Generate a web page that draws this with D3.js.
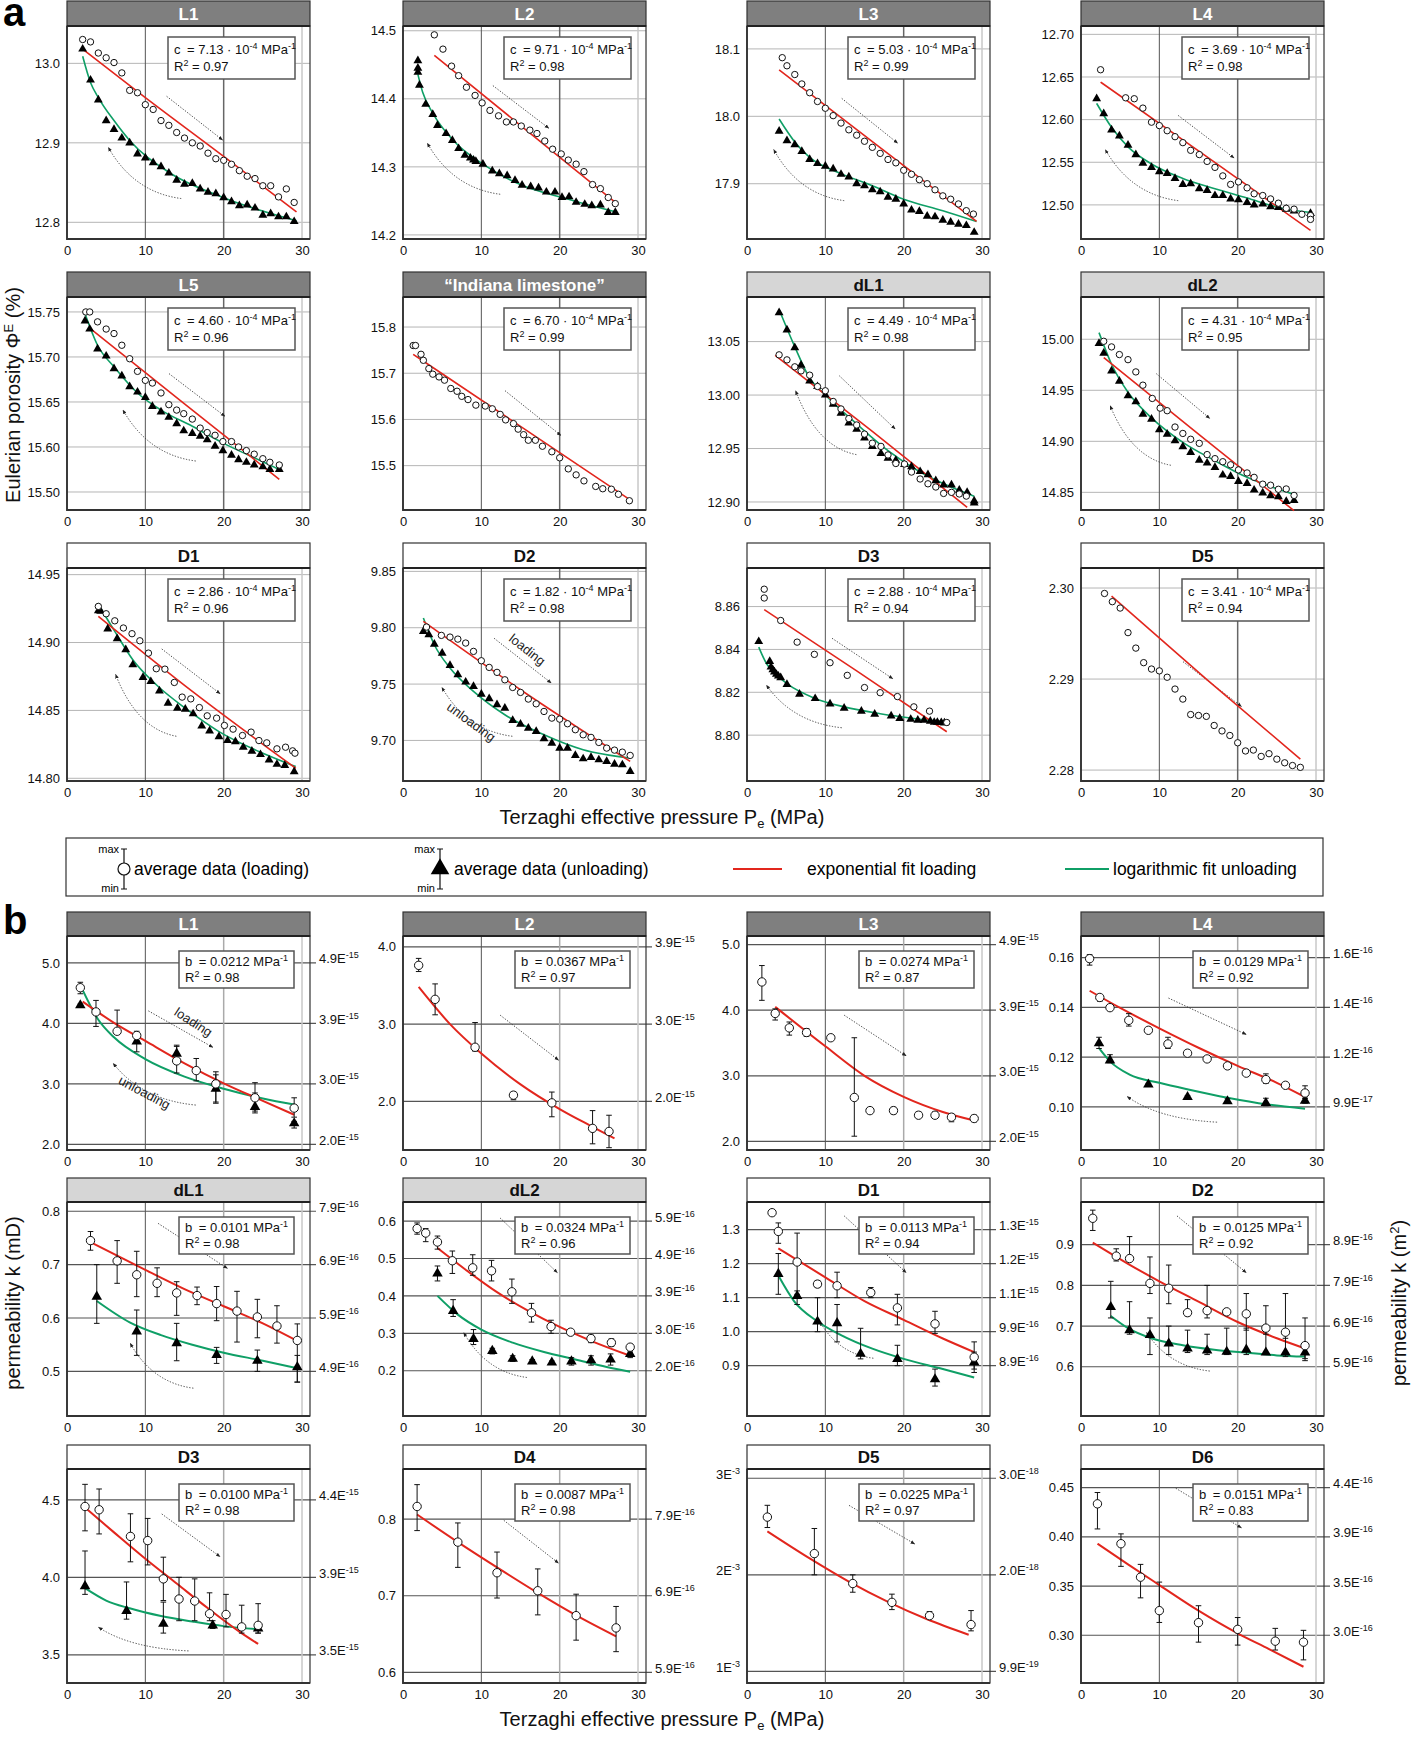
<!DOCTYPE html>
<html lang="en">
<head>
<meta charset="utf-8">
<title>Porosity and permeability vs Terzaghi effective pressure</title>
<script src="https://d3js.org/d3.v7.min.js"></script>
<style>
  body { margin: 0; background: #fff; }
  text { font-family: "Liberation Sans", Arial, Helvetica, sans-serif; }
</style>
</head>
<body>
<script>

// ---------- section a : Eulerian porosity (%) ----------
// points are [pressure MPa, porosity]
var aL1_load = [[2,13.030],[3,13.027],[4,13.013],[5,13.007],[6,13.001],[7,12.988],[8,12.966],[9,12.963],[10,12.948],[11,12.942],[12,12.928],[13,12.922],[14,12.913],[15,12.906],[16,12.900],[17,12.896],[18,12.887],[19,12.880],[20,12.878],[21,12.873],[22,12.865],[23,12.858],[24,12.855],[25,12.846],[26,12.846],[27,12.832],[28,12.842],[29,12.825]];
var aL1_unload = [[2,13.018],[3,12.979],[4,12.954],[5,12.928],[6,12.917],[7,12.906],[8,12.900],[9,12.886],[10,12.881],[11,12.875],[12,12.870],[13,12.862],[14,12.853],[15,12.848],[16,12.849],[17,12.842],[18,12.838],[19,12.836],[20,12.831],[21,12.826],[22,12.821],[23,12.822],[24,12.818],[25,12.809],[26,12.811],[27,12.807],[28,12.807],[29,12.801]];
var aL1_fitL = [[2,13.018],[10,12.957],[20,12.883],[29.3,12.813]];
var aL1_fitU = [[2,13.009],[3,12.976],[4,12.957],[6,12.928],[8,12.903],[13,12.863],[20,12.831],[29.3,12.802]];
var aL1_ticks = ["12.8","12.9","13.0"];

var aL2_load = [[4.0,14.494],[5.1,14.473],[6.2,14.448],[7.1,14.434],[8.1,14.417],[9.2,14.405],[10.1,14.394],[11.1,14.383],[12.2,14.375],[13.2,14.366],[14.1,14.366],[15.1,14.360],[16.2,14.354],[17.1,14.349],[18.1,14.338],[19.1,14.326],[20.2,14.319],[21.1,14.310],[22.1,14.304],[23.1,14.293],[24.2,14.274],[25.2,14.268],[26.2,14.255],[27.1,14.246]];
var aL2_unload = [[1.9,14.456],[1.9,14.445],[1.9,14.439],[2.1,14.420],[2.9,14.392],[3.8,14.377],[4.4,14.361],[5.5,14.349],[6.3,14.339],[7.1,14.327],[7.9,14.317],[8.6,14.313],[9.0,14.310],[9.3,14.308],[10.2,14.304],[11.4,14.294],[12.3,14.290],[13.3,14.287],[14.3,14.280],[15.2,14.273],[16.3,14.271],[17.3,14.269],[18.3,14.263],[19.4,14.263],[20.3,14.255],[21.2,14.256],[22.1,14.248],[23.2,14.245],[24.1,14.243],[25.2,14.244],[26.2,14.233],[27.1,14.233]];
var aL2_fitL = [[4.0,14.464],[15.1,14.360],[27.1,14.248]];
var aL2_fitU = [[1.9,14.436],[2.5,14.410],[3.8,14.379],[6.4,14.339],[10.2,14.304],[15.2,14.273],[20.3,14.255],[27.1,14.234]];
var aL2_ticks = ["14.2","14.3","14.4","14.5"];

var aL3_load = [[4.5,18.087],[5.1,18.075],[6.1,18.062],[7.0,18.048],[8.0,18.035],[9.0,18.022],[10.0,18.012],[11.0,18.001],[12.0,17.990],[13.0,17.980],[14.0,17.972],[15.0,17.963],[16.0,17.954],[17.0,17.945],[18.0,17.936],[19.0,17.931],[20.0,17.920],[21.0,17.914],[22.0,17.906],[23.0,17.900],[24.0,17.891],[25.0,17.882],[26.0,17.877],[27.0,17.870],[28.0,17.860],[28.9,17.855]];
var aL3_unload = [[4.1,17.978],[5.1,17.964],[6.1,17.958],[7.0,17.948],[8.0,17.936],[9.0,17.930],[10.0,17.926],[11.0,17.922],[12.0,17.914],[13.0,17.910],[14.0,17.900],[15.0,17.897],[16.0,17.891],[17.0,17.888],[18.0,17.880],[19.0,17.877],[20.0,17.870],[21.0,17.861],[22.0,17.859],[23.0,17.852],[24.0,17.851],[25.0,17.846],[26.0,17.843],[27.0,17.840],[28.0,17.838],[29.0,17.828]];
var aL3_fitL = [[4.1,18.069],[16.5,17.958],[29.3,17.844]];
var aL3_fitU = [[4.1,17.996],[6.1,17.962],[8,17.939],[12,17.915],[16,17.897],[20,17.877],[25,17.860],[29.3,17.844]];
var aL3_ticks = ["17.9","18.0","18.1"];

var aL4_load = [[2.5,12.6585],[5.7,12.6256],[6.8,12.6245],[7.9,12.6135],[9.0,12.597],[10.0,12.593],[11.0,12.587],[12.0,12.580],[13.0,12.573],[14.0,12.564],[15.1,12.559],[16.1,12.551],[17.1,12.544],[18.1,12.534],[19.1,12.524],[20.1,12.527],[21.2,12.520],[22.1,12.513],[23.2,12.511],[24.2,12.507],[25.2,12.502],[26.2,12.496],[27.2,12.495],[28.2,12.489],[29.3,12.4875],[29.3,12.483]];
var aL4_unload = [[2.0,12.6245],[2.9,12.607],[3.9,12.588],[4.9,12.581],[6.0,12.570],[7.0,12.559],[7.9,12.549],[9.0,12.544],[10.0,12.539],[11.0,12.537],[12.0,12.531],[13.0,12.524],[14.0,12.525],[15.1,12.519],[16.1,12.517],[17.1,12.511],[18.1,12.511],[19.1,12.507],[20.1,12.506],[21.2,12.503],[22.1,12.500],[23.2,12.501],[24.2,12.498],[25.2,12.497],[26.2,12.495],[27.2,12.493],[29.3,12.490]];
var aL4_fitL = [[2.5,12.644],[16,12.557],[29.3,12.470]];
var aL4_fitU = [[2.0,12.619],[3.9,12.591],[6,12.568],[9,12.548],[13,12.531],[17.1,12.519],[21.2,12.508],[25.2,12.497],[29.3,12.491]];
var aL4_ticks = ["12.50","12.55","12.60","12.65","12.70"];

var aL5_load = [[2.4,15.750],[2.9,15.750],[3.9,15.739],[5.0,15.731],[6.0,15.726],[7.0,15.713],[8.0,15.698],[9.0,15.684],[10.0,15.674],[10.9,15.671],[12.0,15.660],[13.0,15.647],[14.0,15.641],[14.9,15.637],[16.0,15.631],[17.0,15.621],[17.9,15.616],[18.9,15.613],[19.9,15.606],[21.0,15.606],[21.9,15.600],[22.9,15.596],[23.9,15.592],[25.0,15.587],[25.9,15.583],[27.1,15.580]];
var aL5_unload = [[2.3,15.740],[2.9,15.731],[3.9,15.709],[5.0,15.701],[6.0,15.687],[7.0,15.679],[8.0,15.667],[9.0,15.661],[10.0,15.655],[10.9,15.645],[12.0,15.639],[13.0,15.633],[14.0,15.626],[14.9,15.618],[16.0,15.615],[17.0,15.612],[17.9,15.608],[18.9,15.601],[19.9,15.596],[21.0,15.591],[21.9,15.586],[22.9,15.583],[23.9,15.580],[25.0,15.578],[25.9,15.575],[27.1,15.575]];
var aL5_fitL = [[2.9,15.732],[15,15.648],[27.1,15.564]];
var aL5_fitU = [[2.3,15.748],[3.9,15.713],[6,15.689],[9,15.660],[12,15.641],[16,15.623],[20,15.604],[23.4,15.590],[27.1,15.575]];
var aL5_ticks = ["15.50","15.60","15.65","15.70","15.75"];
var aL5_tickVals = [15.55, 15.60, 15.65, 15.70, 15.75];

var aIL_load = [[1.3,15.760],[1.6,15.760],[2.3,15.741],[2.6,15.728],[3.3,15.710],[3.8,15.698],[4.6,15.692],[5.3,15.685],[6.1,15.667],[6.9,15.661],[7.5,15.650],[8.3,15.643],[9.3,15.631],[10.5,15.629],[11.4,15.623],[12.4,15.611],[13.1,15.599],[14.1,15.591],[14.7,15.579],[15.4,15.567],[16.0,15.555],[16.9,15.555],[17.8,15.542],[19.0,15.530],[20.0,15.517],[21.1,15.493],[22.1,15.480],[23.1,15.467],[24.6,15.455],[25.5,15.450],[26.6,15.449],[27.5,15.438],[28.9,15.424]];
var aIL_fitL = [[1.3,15.741],[15,15.585],[28.9,15.427]];
var aIL_ticks = ["15.5","15.6","15.7","15.8"];

var adL1_load = [[4.1,13.0376],[5.1,13.0329],[6.1,13.0264],[6.9,13.0226],[8.0,13.0186],[9.0,13.008],[10.0,13.004],[11.0,12.994],[12.0,12.987],[13.0,12.978],[14.0,12.972],[15.0,12.9635],[16.0,12.955],[17.1,12.952],[18.0,12.944],[19.0,12.936],[20.1,12.9355],[21.0,12.928],[22.1,12.9215],[23.1,12.917],[24.1,12.914],[25.1,12.908],[26.1,12.909],[27.1,12.9075],[28.0,12.9055]];
var adL1_unload = [[4.1,13.077],[5.1,13.061],[6.1,13.0444],[6.9,13.028],[8.0,13.0133],[9.0,13.008],[10.0,13.000],[11.0,12.9915],[12.0,12.983],[13.0,12.974],[14.0,12.968],[15.0,12.960],[16.0,12.952],[17.1,12.9455],[18.0,12.941],[19.0,12.939],[20.1,12.935],[21.0,12.933],[22.1,12.9285],[23.1,12.9255],[24.1,12.920],[25.1,12.916],[26.1,12.916],[27.1,12.911],[28.1,12.909],[29.0,12.901],[29.0,12.899]];
var adL1_fitL = [[3.6,13.0372],[16,12.966],[28.1,12.895]];
var adL1_fitU = [[4.1,13.080],[6.05,13.046],[7.95,13.0164],[10,13.0],[14,12.973],[18,12.948],[22.1,12.928],[25.1,12.917],[29,12.9053]];
var adL1_ticks = ["12.90","12.95","13.00","13.05"];

var adL2_load = [[2.9,14.998],[3.9,14.9925],[4.9,14.985],[6.0,14.980],[7.0,14.968],[7.9,14.955],[9.1,14.942],[10.1,14.9325],[11.0,14.930],[12.0,14.914],[13.0,14.9077],[14.0,14.902],[15.1,14.898],[16.1,14.887],[17.1,14.883],[18.1,14.880],[19.1,14.877],[20.1,14.872],[21.2,14.869],[22.1,14.8647],[23.2,14.858],[24.2,14.857],[25.2,14.853],[26.2,14.8533],[27.2,14.847]];
var adL2_unload = [[2.3,14.996],[2.9,14.9863],[3.9,14.969],[4.9,14.959],[6.0,14.9446],[7.0,14.9387],[7.9,14.9266],[9.0,14.9217],[10.0,14.9113],[11.0,14.907],[12.0,14.9005],[13.0,14.8947],[14.0,14.8891],[15.1,14.8816],[16.1,14.8787],[17.1,14.8745],[18.1,14.867],[19.1,14.8657],[20.1,14.8608],[21.2,14.8588],[22.1,14.8523],[23.2,14.8494],[24.2,14.8468],[25.2,14.8458],[26.2,14.8412],[27.2,14.842]];
var adL2_fitL = [[2.9,14.982],[15,14.907],[27.2,14.832]];
var adL2_fitU = [[2.3,15.0065],[3.9,14.9755],[6.0,14.948],[9,14.923],[13,14.899],[17.1,14.881],[21.2,14.8647],[27.2,14.848]];
var adL2_ticks = ["14.85","14.90","14.95","15.00"];

var aD1_load = [[4.0,14.9266],[5.0,14.9212],[6.1,14.916],[7.2,14.9107],[8.3,14.9065],[9.3,14.9013],[10.4,14.8922],[11.4,14.8807],[12.5,14.8804],[13.7,14.8706],[14.7,14.8598],[15.8,14.8585],[16.9,14.8521],[17.9,14.846],[19.1,14.8443],[20.1,14.8389],[21.2,14.8362],[22.4,14.8315],[23.5,14.834],[24.5,14.8278],[25.5,14.8261],[26.8,14.8217],[27.9,14.8229],[28.8,14.8202],[29.1,14.8185]];
var aD1_unload = [[4.0,14.9234],[4.3,14.923],[5.2,14.910],[6.4,14.9028],[7.5,14.8947],[8.4,14.8836],[9.7,14.8743],[10.7,14.8713],[11.8,14.8644],[12.9,14.8553],[14.1,14.8516],[15.1,14.8509],[16.1,14.8475],[17.2,14.8386],[18.2,14.8349],[19.4,14.8307],[20.5,14.8278],[21.5,14.827],[22.5,14.8229],[23.6,14.8200],[24.7,14.8175],[25.8,14.8135],[26.8,14.8103],[27.8,14.8095],[29.0,14.8049]];
var aD1_fitL = [[4.0,14.9193],[16,14.864],[29.2,14.8074]];
var aD1_fitU = [[3.9,14.929],[6.1,14.9082],[8.4,14.8873],[11.4,14.8689],[15.1,14.8516],[19.4,14.8344],[24.5,14.8197],[29.2,14.8086]];
var aD1_ticks = ["14.80","14.85","14.90","14.95"];

var aD2_load = [[3.0,9.8006],[4.9,9.7932],[6.0,9.7917],[7.0,9.7899],[8.0,9.7864],[9.0,9.779],[10.0,9.7707],[11.0,9.7648],[12.0,9.7604],[13.0,9.7538],[14.0,9.747],[15.0,9.7426],[16.0,9.7367],[17.0,9.7325],[18.0,9.7257],[19.0,9.7198],[20.0,9.7189],[21.0,9.7148],[22.0,9.7095],[23.0,9.705],[24.0,9.7027],[25.0,9.6982],[26.0,9.6932],[27.0,9.6914],[28.0,9.6896],[29.0,9.6867]];
var aD2_unload = [[2.6,9.7967],[3.3,9.7938],[4.0,9.7855],[5.0,9.7775],[6.0,9.7666],[7.0,9.7583],[8.0,9.7518],[9.0,9.7479],[10.0,9.7411],[11.0,9.737],[12.0,9.7317],[13.0,9.7287],[14.0,9.7178],[15.0,9.7145],[16.0,9.7109],[17.0,9.708],[18.0,9.7015],[19.0,9.6976],[20.0,9.6932],[21.0,9.6932],[22.0,9.6867],[23.0,9.6837],[24.0,9.6849],[25.0,9.6828],[26.0,9.6814],[27.0,9.679],[28.0,9.6784],[29.0,9.6725]];
var aD2_fitL = [[2.6,9.8056],[15,9.745],[29,9.6814]];
var aD2_fitU = [[2.6,9.8086],[4,9.7849],[6,9.7642],[9,9.7435],[13,9.7228],[18,9.705],[23,9.6917],[29,9.6843]];
var aD2_ticks = ["9.70","9.75","9.80","9.85"];

var aD3_load = [[2.2,8.8681],[2.2,8.864],[4.3,8.8535],[6.4,8.8434],[8.6,8.8377],[10.6,8.8338],[12.8,8.8279],[15.0,8.8222],[17.0,8.8198],[19.2,8.818],[21.3,8.8132],[23.3,8.8112],[25.5,8.8059]];
var aD3_unload = [[1.5,8.8437],[2.9,8.8344],[3.06,8.8318],[3.3,8.8305],[3.5,8.8295],[3.75,8.8284],[4.0,8.8276],[4.3,8.8268],[5.1,8.8237],[6.7,8.8191],[8.7,8.8171],[10.6,8.8146],[12.4,8.8126],[14.6,8.8112],[16.3,8.8098],[18.4,8.809],[19.5,8.8078],[20.9,8.8074],[21.8,8.807],[22.6,8.807],[23.4,8.8065],[23.9,8.806],[24.3,8.806],[24.8,8.8059],[25.2,8.8057]];
var aD3_fitL = [[2.2,8.8586],[14,8.830],[25.5,8.8016]];
var aD3_fitU = [[1.5,8.8411],[2.5,8.8333],[3.6,8.8287],[5.1,8.824],[8.7,8.8171],[12.4,8.8132],[17,8.81],[21.3,8.8078],[25.5,8.8062]];
var aD3_ticks = ["8.80","8.82","8.84","8.86"];

var aD5_load = [[3,2.2994],[4,2.2985],[5,2.2978],[6,2.2951],[7,2.2934],[8,2.2918],[9,2.2911],[10,2.2909],[11,2.2902],[12,2.2889],[13,2.2878],[14,2.2861],[15,2.2860],[16,2.2859],[17,2.2849],[18,2.2843],[19,2.2838],[20,2.2830],[21,2.2821],[22,2.2822],[23,2.2815],[24,2.2818],[25,2.2812],[26,2.2808],[27,2.2805],[28,2.2803]];
var aD5_fitL = [[3.9,2.2991],[16,2.2900],[28,2.2812]];
var aD5_ticks = ["2.28","2.29","2.30"];

// fit parameters (c in 10^-4 MPa^-1) and R²
var aC  = ["7.13","9.71","5.03","3.69","4.60","6.70","4.49","4.31","2.86","1.82","2.88","3.41"];
var aR2 = ["0.97","0.98","0.99","0.98","0.96","0.99","0.98","0.95","0.96","0.98","0.94","0.94"];

// ---------- section b : permeability (mD), points [P, k, min, max] ----------
var bL1_load = [[1.7,4.59,4.49,4.68],[3.7,4.19,3.95,4.38],[6.4,3.87,3.87,4.22],[8.9,3.80,3.72,3.87],[14.0,3.38,3.18,3.64],[16.5,3.22,3.05,3.42],[19.0,3.00,2.70,3.20],[24.0,2.77,2.55,3.02],[29.0,2.60,2.45,2.77]];
var bL1_unload = [[1.7,4.30,4.28,4.32],[8.9,3.70,3.53,3.75],[14.0,3.50,3.40,3.62],[19.0,2.92,2.68,3.15],[24.0,2.62,2.52,2.85],[29.0,2.35,2.27,2.38]];
var bL1_fitL = [[2,4.36],[6,4.01],[10,3.71],[15,3.34],[20,3.01],[25,2.72],[29,2.49]];
var bL1_fitU = [[2,4.55],[4,4.06],[6,3.77],[10,3.41],[15,3.12],[20,2.92],[25,2.76],[29,2.66]];
var bL1_ticks = ["2.0","3.0","4.0","5.0"];
var bL1_right = ["2.0E{-15}","3.0E{-15}","3.9E{-15}","4.9E{-15}"];

var bL2_load = [[2.0,3.76,3.68,3.85],[4.1,3.32,3.12,3.52],[9.2,2.70,2.65,3.02],[14.1,2.08,2.02,2.12],[19.0,1.98,1.80,2.12],[24.2,1.65,1.45,1.88],[26.3,1.61,1.40,1.82]];
var bL2_fitL = [[2,3.48],[6,3.00],[10,2.62],[15,2.22],[20,1.90],[24,1.68],[27,1.52]];
var bL2_ticks = ["2.0","3.0","4.0"];
var bL2_right = ["2.0E{-15}","3.0E{-15}","3.9E{-15}"];

var bL3_load = [[1.9,4.43,4.15,4.68],[3.6,3.95,3.85,4.02],[5.4,3.73,3.62,3.82],[7.6,3.66,3.60,3.72],[10.7,3.58,3.55,3.62],[13.7,2.67,2.08,3.58],[15.7,2.47,2.45,2.50],[18.7,2.47,2.42,2.52],[21.9,2.40,2.36,2.45],[24.0,2.40,2.35,2.45],[26.1,2.37,2.30,2.42],[29.0,2.35,2.30,2.40]];
var bL3_fitL = [[3.6,4.05],[10,3.45],[15,3.00],[20,2.68],[25,2.45],[29,2.32]];
var bL3_ticks = ["2.0","3.0","4.0","5.0"];
var bL3_right = ["2.0E{-15}","3.0E{-15}","3.9E{-15}","4.9E{-15}"];

var bL4_load = [[1.1,0.1596,0.157,0.1612],[2.4,0.144,0.1425,0.1443],[3.7,0.1399,0.139,0.1408],[6.1,0.1348,0.1325,0.1375],[8.6,0.1308,0.130,0.1315],[11.1,0.1253,0.1235,0.128],[13.6,0.1216,0.1208,0.1225],[16.1,0.1193,0.119,0.1196],[18.7,0.1165,0.1158,0.1173],[21.1,0.1136,0.1133,0.1139],[23.6,0.111,0.1095,0.1133],[26.1,0.1087,0.1078,0.1098],[28.6,0.1056,0.1035,0.1085]];
var bL4_unload = [[2.3,0.1256,0.1235,0.128],[3.7,0.1187,0.1178,0.121],[8.6,0.109,0.1085,0.1095],[13.6,0.104,0.1035,0.1045],[18.7,0.1023,0.1015,0.1033],[23.6,0.1016,0.1005,0.1035],[28.6,0.1025,0.1015,0.1035]];
var bL4_fitL = [[1.1,0.1467],[5,0.1398],[10,0.1316],[15,0.1238],[20,0.1165],[25,0.1097],[28.6,0.1040]];
var bL4_fitU = [[2.3,0.1236],[3.7,0.1183],[6.2,0.113],[10,0.1097],[13.7,0.107],[18.7,0.1037],[23.8,0.101],[28.6,0.0993]];
var bL4_ticks = ["0.10","0.12","0.14","0.16"];
var bL4_right = ["9.9E{-17}","1.2E{-16}","1.4E{-16}","1.6E{-16}"];

var bdL1_load = [[3.0,0.745,0.727,0.762],[6.4,0.707,0.665,0.745],[8.9,0.681,0.64,0.725],[11.5,0.665,0.64,0.694],[14.0,0.647,0.605,0.668],[16.6,0.642,0.625,0.658],[19.1,0.627,0.595,0.659],[21.7,0.613,0.555,0.65],[24.3,0.602,0.563,0.635],[26.8,0.585,0.553,0.623],[29.4,0.558,0.48,0.589]];
var bdL1_unload = [[3.8,0.64,0.59,0.70],[8.9,0.575,0.53,0.615],[14.0,0.553,0.52,0.59],[19.1,0.531,0.515,0.545],[24.3,0.52,0.50,0.54],[29.4,0.508,0.48,0.53]];
var bdL1_fitL = [[3,0.742],[10,0.69],[15,0.654],[20,0.622],[25,0.59],[29.4,0.557]];
var bdL1_fitU = [[3.8,0.632],[8,0.592],[12,0.568],[16,0.55],[20,0.535],[25,0.52],[29.4,0.506]];
var bdL1_ticks = ["0.5","0.6","0.7","0.8"];
var bdL1_right = ["4.9E{-16}","5.9E{-16}","6.9E{-16}","7.9E{-16}"];

var bdL2_load = [[1.8,0.580,0.565,0.595],[2.9,0.568,0.545,0.58],[4.4,0.544,0.525,0.56],[6.3,0.494,0.46,0.52],[8.9,0.475,0.455,0.51],[11.3,0.467,0.44,0.495],[13.9,0.411,0.38,0.445],[16.4,0.355,0.33,0.38],[18.9,0.318,0.30,0.335],[21.4,0.303,0.295,0.31],[24.0,0.286,0.275,0.295],[26.6,0.275,0.265,0.285],[29.0,0.263,0.25,0.27]];
var bdL2_unload = [[4.4,0.46,0.44,0.48],[6.4,0.36,0.345,0.39],[9.0,0.285,0.27,0.31],[11.4,0.253,0.245,0.26],[14.0,0.232,0.225,0.24],[16.5,0.225,0.22,0.23],[19.0,0.222,0.218,0.226],[21.5,0.225,0.215,0.235],[24.0,0.228,0.215,0.24],[26.5,0.23,0.215,0.245],[29.0,0.245,0.235,0.255]];
var bdL2_fitL = [[4.4,0.528],[8,0.47],[12,0.41],[16,0.36],[20,0.317],[24,0.28],[29,0.24]];
var bdL2_fitU = [[4.4,0.40],[7,0.35],[10,0.31],[14,0.275],[18,0.25],[22,0.23],[26,0.21],[29,0.197]];
var bdL2_ticks = ["0.2","0.3","0.4","0.5","0.6"];
var bdL2_right = ["2.0E{-16}","3.0E{-16}","3.9E{-16}","4.9E{-16}","5.9E{-16}"];

var bD1_load = [[3.2,1.35,1.35,1.35],[4.0,1.295,1.26,1.32],[6.4,1.205,1.11,1.29],[9.0,1.14,1.13,1.15],[11.5,1.135,1.10,1.175],[15.8,1.115,1.10,1.13],[19.2,1.07,1.02,1.11],[24.0,1.023,0.995,1.06],[29.0,0.925,0.89,0.97]];
var bD1_unload = [[4.0,1.17,1.11,1.23],[6.4,1.105,1.08,1.12],[9.0,1.03,1.0,1.10],[11.5,1.025,0.97,1.08],[14.5,0.935,0.92,1.01],[19.2,0.92,0.90,0.96],[24.0,0.86,0.84,0.89],[29.0,0.91,0.88,0.94]];
var bD1_fitL = [[4,1.245],[10,1.16],[15,1.09],[20,1.035],[25,0.98],[29,0.94]];
var bD1_fitU = [[4,1.165],[6,1.09],[9,1.03],[12,0.99],[16,0.95],[20,0.92],[25,0.89],[29,0.865]];
var bD1_ticks = ["0.9","1.0","1.1","1.2","1.3"];
var bD1_right = ["8.9E{-16}","9.9E{-16}","1.1E{-15}","1.2E{-15}","1.3E{-15}"];

var bD2_load = [[1.5,0.965,0.935,0.985],[4.5,0.872,0.86,0.89],[6.2,0.866,0.865,0.92],[8.8,0.805,0.78,0.87],[11.2,0.793,0.755,0.85],[13.6,0.733,0.725,0.765],[16.1,0.738,0.72,0.80],[18.6,0.735,0.73,0.74],[21.1,0.73,0.69,0.78],[23.6,0.695,0.68,0.75],[26.1,0.685,0.67,0.78],[28.6,0.652,0.62,0.72]];
var bD2_unload = [[3.8,0.747,0.72,0.81],[6.2,0.69,0.68,0.76],[8.8,0.678,0.63,0.72],[11.2,0.657,0.63,0.70],[13.6,0.645,0.635,0.69],[16.1,0.64,0.63,0.68],[18.6,0.637,0.63,0.695],[21.1,0.642,0.63,0.695],[23.6,0.635,0.63,0.69],[26.1,0.635,0.625,0.68],[28.6,0.635,0.615,0.645]];
var bD2_fitL = [[1.5,0.905],[6,0.853],[10,0.81],[15,0.76],[20,0.71],[25,0.67],[28.6,0.645]];
var bD2_fitU = [[3.8,0.725],[6,0.695],[9,0.67],[13,0.653],[17,0.642],[21,0.635],[25,0.628],[28.6,0.625]];
var bD2_ticks = ["0.6","0.7","0.8","0.9"];
var bD2_right = ["5.9E{-16}","6.9E{-16}","7.9E{-16}","8.9E{-16}"];

var bD3_load = [[2.3,4.457,4.30,4.60],[4.1,4.436,4.28,4.57],[8.1,4.264,4.10,4.41],[10.3,4.237,4.08,4.38],[12.3,3.99,3.85,4.13],[14.3,3.86,3.72,4.0],[16.3,3.847,3.72,3.99],[18.2,3.765,3.72,3.90],[20.3,3.76,3.68,3.89],[22.3,3.68,3.64,3.82],[24.4,3.69,3.64,3.83]];
var bD3_unload = [[2.3,3.943,3.89,4.17],[7.6,3.783,3.73,3.97],[12.3,3.70,3.64,3.84],[18.6,3.69,3.67,3.72],[24.4,3.67,3.64,3.70]];
var bD3_fitL = [[2.3,4.45],[6,4.29],[10,4.12],[14,3.96],[18,3.80],[22,3.65],[24.4,3.57]];
var bD3_fitU = [[2.3,3.93],[5,3.85],[8,3.80],[12,3.75],[16,3.715],[20,3.685],[24.4,3.665]];
var bD3_ticks = ["3.5","4.0","4.5"];
var bD3_right = ["3.5E{-15}","3.9E{-15}","4.4E{-15}"];

var bD4_load = [[1.8,0.8165,0.785,0.845],[7.0,0.770,0.737,0.795],[12.0,0.730,0.697,0.757],[17.2,0.7065,0.675,0.735],[22.1,0.674,0.642,0.702],[27.2,0.658,0.627,0.686]];
var bD4_fitL = [[1.8,0.806],[7,0.77],[12,0.737],[17,0.705],[22,0.675],[27.2,0.647]];
var bD4_ticks = ["0.6","0.7","0.8"];
var bD4_right = ["5.9E{-16}","6.9E{-16}","7.9E{-16}"];

// D5 permeability in units of 1E-3 mD
var bD5_load = [[2.6,2.598,2.49,2.72],[8.6,2.22,2.0,2.48],[13.5,1.91,1.82,2.0],[18.5,1.715,1.64,1.80],[23.3,1.577,1.55,1.62],[28.6,1.485,1.42,1.63]];
var bD5_fitL = [[2.6,2.45],[8,2.17],[13,1.93],[18,1.72],[23,1.54],[28.3,1.38]];
var bD5_ticks = ["1E{-3}","2E{-3}","3E{-3}"];
var bD5_tickVals = [1, 2, 3];
var bD5_right = ["9.9E{-19}","2.0E{-18}","3.0E{-18}"];

var bD6_load = [[2.1,0.4335,0.408,0.445],[5.1,0.393,0.37,0.403],[7.6,0.359,0.338,0.372],[10.0,0.325,0.313,0.354],[15.0,0.3128,0.293,0.33],[20.0,0.306,0.29,0.318],[24.8,0.294,0.285,0.307],[28.4,0.293,0.275,0.305]];
var bD6_fitL = [[2.1,0.393],[6,0.372],[10,0.351],[15,0.325],[20,0.302],[24,0.286],[28.4,0.268]];
var bD6_ticks = ["0.30","0.35","0.40","0.45"];
var bD6_right = ["3.0E{-16}","3.5E{-16}","3.9E{-16}","4.4E{-16}"];

var bB  = ["0.0212","0.0367","0.0274","0.0129","0.0101","0.0324","0.0113","0.0125","0.0100","0.0087","0.0225","0.0151"];
var bR2 = ["0.98","0.97","0.87","0.92","0.98","0.96","0.94","0.92","0.98","0.98","0.97","0.83"];

var xTicks = [0, 10, 20, 30];

// ---------- layout ----------
var width = 1411, height = 1737;
var red = "#e2261d", green = "#0f9f66";
var colX = [67, 403, 747, 1081], panelW = 243;
var secA = {tops: [1, 272, 543], headH: 25, plotH: 213};
var secB = {tops: [912, 1178, 1445], headH: 24, plotH: 214};
var headFill = {dark: "#7f7f7f", light: "#d6d6d6", white: "#ffffff"};
var headInk = {dark: "#ffffff", light: "#111111", white: "#111111"};

var svg = d3.select("body").append("svg")
    .attr("width", width)
    .attr("height", height);

var defs = svg.append("defs");
defs.append("marker")
    .attr("id", "ah")
    .attr("viewBox", "0 0 10 10")
    .attr("refX", 9).attr("refY", 5)
    .attr("markerWidth", 5).attr("markerHeight", 5)
    .attr("orient", "auto")
  .append("path")
    .attr("d", "M0,1 L10,5 L0,9 z")
    .attr("fill", "#222");

// text with {superscript} parts
function rich(t, str, supSize, rise) {
  var parts = str.split(/(\{[^}]*\})/);
  var up = false;
  parts.forEach(function(s) {
    if (!s) return;
    if (s[0] == "{") {
      t.append("tspan").attr("font-size", supSize).attr("dy", -rise).text(s.slice(1, -1));
      up = true;
    } else {
      t.append("tspan").attr("dy", up ? rise : 0).text(s);
      up = false;
    }
  });
}

var panels = [
  // section a
  {s:"a", r:0, c:0, title:"L1", head:"dark", dom:[12.779,13.047], ticks:aL1_ticks, load:aL1_load, unload:aL1_unload, fitL:aL1_fitL, fitU:aL1_fitU, la:[0.41,0.33,0.64,0.535], ua:[0.47,0.81,0.17,0.57]},
  {s:"a", r:0, c:1, title:"L2", head:"dark", dom:[14.194,14.507], ticks:aL2_ticks, load:aL2_load, unload:aL2_unload, fitL:aL2_fitL, fitU:aL2_fitU, la:[0.37,0.28,0.60,0.48], ua:[0.40,0.79,0.10,0.55]},
  {s:"a", r:0, c:2, title:"L3", head:"dark", dom:[17.818,18.134], ticks:aL3_ticks, load:aL3_load, unload:aL3_unload, fitL:aL3_fitL, fitU:aL3_fitU, la:[0.39,0.34,0.62,0.55], ua:[0.40,0.82,0.11,0.58]},
  {s:"a", r:0, c:3, title:"L4", head:"dark", dom:[12.460,12.7098], ticks:aL4_ticks, load:aL4_load, unload:aL4_unload, fitL:aL4_fitL, fitU:aL4_fitU, la:[0.40,0.42,0.63,0.62], ua:[0.40,0.82,0.10,0.58]},
  {s:"a", r:1, c:0, title:"L5", head:"dark", dom:[15.530,15.7666], ticks:aL5_ticks, tickVals:aL5_tickVals, load:aL5_load, unload:aL5_unload, fitL:aL5_fitL, fitU:aL5_fitU, la:[0.42,0.36,0.65,0.56], ua:[0.53,0.77,0.23,0.53]},
  {s:"a", r:1, c:1, title:"\u201CIndiana limestone\u201D", head:"dark", dom:[15.404,15.865], ticks:aIL_ticks, load:aIL_load, fitL:aIL_fitL, la:[0.42,0.44,0.65,0.65]},
  {s:"a", r:1, c:2, title:"dL1", head:"light", dom:[12.8925,13.0917], ticks:adL1_ticks, load:adL1_load, unload:adL1_unload, fitL:adL1_fitL, fitU:adL1_fitU, la:[0.38,0.37,0.61,0.62], ua:[0.45,0.74,0.20,0.44]},
  {s:"a", r:1, c:3, title:"dL2", head:"light", dom:[14.8327,15.0414], ticks:adL2_ticks, load:adL2_load, unload:adL2_unload, fitL:adL2_fitL, fitU:adL2_fitU, la:[0.31,0.36,0.53,0.57], ua:[0.37,0.79,0.12,0.51]},
  {s:"a", r:2, c:0, title:"D1", head:"white", dom:[14.798,14.9549], ticks:aD1_ticks, load:aD1_load, unload:aD1_unload, fitL:aD1_fitL, fitU:aD1_fitU, la:[0.39,0.38,0.63,0.59], ua:[0.45,0.79,0.20,0.50]},
  {s:"a", r:2, c:1, title:"D2", head:"white", dom:[9.664,9.853], ticks:aD2_ticks, load:aD2_load, unload:aD2_unload, fitL:aD2_fitL, fitU:aD2_fitU, la:[0.375,0.33,0.61,0.54], ua:[0.45,0.79,0.16,0.56],
     labels:[{t:"loading", x:0.50, y:0.40, a:38}, {t:"unloading", x:0.27, y:0.74, a:36}]},
  {s:"a", r:2, c:2, title:"D3", head:"white", dom:[8.7786,8.878], ticks:aD3_ticks, load:aD3_load, unload:aD3_unload, fitL:aD3_fitL, fitU:aD3_fitU, la:[0.35,0.33,0.60,0.52], ua:[0.39,0.75,0.08,0.55]},
  {s:"a", r:2, c:3, title:"D5", head:"white", dom:[2.2788,2.3022], ticks:aD5_ticks, load:aD5_load, fitL:aD5_fitL, la:[0.42,0.44,0.66,0.65]},
  // section b
  {s:"b", r:0, c:0, title:"L1", head:"dark", dom:[1.907,5.445], ticks:bL1_ticks, right:bL1_right, load:bL1_load, unload:bL1_unload, fitL:bL1_fitL, fitU:bL1_fitU, la:[0.335,0.35,0.60,0.52], ua:[0.53,0.79,0.19,0.595],
     labels:[{t:"loading", x:0.51, y:0.42, a:33}, {t:"unloading", x:0.31, y:0.75, a:28}]},
  {s:"b", r:0, c:1, title:"L2", head:"dark", dom:[1.37,4.14], ticks:bL2_ticks, right:bL2_right, load:bL2_load, fitL:bL2_fitL, la:[0.40,0.37,0.64,0.58]},
  {s:"b", r:0, c:2, title:"L3", head:"dark", dom:[1.87,5.13], ticks:bL3_ticks, right:bL3_right, load:bL3_load, fitL:bL3_fitL, la:[0.40,0.37,0.655,0.56]},
  {s:"b", r:0, c:3, title:"L4", head:"dark", dom:[0.0827,0.1687], ticks:bL4_ticks, right:bL4_right, load:bL4_load, unload:bL4_unload, fitL:bL4_fitL, fitU:bL4_fitU, la:[0.36,0.29,0.68,0.46], ua:[0.56,0.87,0.19,0.75]},
  {s:"b", r:1, c:0, title:"dL1", head:"light", dom:[0.4165,0.8173], ticks:bdL1_ticks, right:bdL1_right, load:bdL1_load, unload:bdL1_unload, fitL:bdL1_fitL, fitU:bdL1_fitU, la:[0.375,0.10,0.66,0.31], ua:[0.52,0.87,0.26,0.66]},
  {s:"b", r:1, c:1, title:"dL2", head:"light", dom:[0.079,0.651], ticks:bdL2_ticks, right:bdL2_right, load:bdL2_load, unload:bdL2_unload, fitL:bdL2_fitL, fitU:bdL2_fitU, la:[0.40,0.075,0.635,0.33], ua:[0.51,0.82,0.25,0.61]},
  {s:"b", r:1, c:2, title:"D1", head:"white", dom:[0.752,1.3815], ticks:bD1_ticks, right:bD1_right, load:bD1_load, unload:bD1_unload, fitL:bD1_fitL, fitU:bD1_fitU, la:[0.40,0.065,0.655,0.33], ua:[0.52,0.73,0.30,0.56]},
  {s:"b", r:1, c:3, title:"D2", head:"white", dom:[0.479,1.005], ticks:bD2_ticks, right:bD2_right, load:bD2_load, unload:bD2_unload, fitL:bD2_fitL, fitU:bD2_fitU, la:[0.395,0.065,0.68,0.33], ua:[0.53,0.79,0.27,0.61]},
  {s:"b", r:2, c:0, title:"D3", head:"white", dom:[3.318,4.699], ticks:bD3_ticks, right:bD3_right, load:bD3_load, unload:bD3_unload, fitL:bD3_fitL, fitU:bD3_fitU, la:[0.39,0.21,0.63,0.41], ua:[0.50,0.85,0.13,0.74]},
  {s:"b", r:2, c:1, title:"D4", head:"white", dom:[0.5861,0.8654], ticks:bD4_ticks, right:bD4_right, load:bD4_load, fitL:bD4_fitL, la:[0.415,0.24,0.64,0.44]},
  {s:"b", r:2, c:2, title:"D5", head:"white", dom:[0.88,3.096], ticks:bD5_ticks, tickVals:bD5_tickVals, right:bD5_right, load:bD5_load, fitL:bD5_fitL, la:[0.42,0.17,0.69,0.35]},
  {s:"b", r:2, c:3, title:"D6", head:"white", dom:[0.2515,0.4689], ticks:bD6_ticks, right:bD6_right, load:bD6_load, fitL:bD6_fitL, la:[0.39,0.09,0.66,0.275]}
];

panels.forEach(function(p, i) {
  var sec = p.s == "a" ? secA : secB;
  var k = p.s == "a" ? i : i - 12;
  p.box = p.s == "a"
      ? ["c\u2002= " + aC[k] + " \u00B7 10{-4} MPa{-1}", "R{2} = " + aR2[k]]
      : ["b\u2002= " + bB[k] + " MPa{-1}", "R{2} = " + bR2[k]];
  drawPanel(p, sec);
});

function drawPanel(p, sec) {
  var isB = p.s == "b";
  var g = svg.append("g")
      .attr("transform", "translate(" + colX[p.c] + "," + sec.tops[p.r] + ")");
  var top = sec.headH, bot = sec.headH + sec.plotH, W = panelW, H = sec.plotH;

  var x = d3.scaleLinear().domain([0, 31.02]).range([0, W]);
  var y = d3.scaleLinear().domain(p.dom).range([bot, top]);
  var tv = p.tickVals || p.ticks.map(function(d) { return +d; });

  // horizontal grid
  g.selectAll(".hg").data(tv).enter().append("line")
      .attr("x1", 0).attr("x2", isB ? W + 6 : W)
      .attr("y1", function(d) { return y(d); })
      .attr("y2", function(d) { return y(d); })
      .attr("stroke", isB ? "#555" : "#b5b5b5")
      .attr("stroke-width", isB ? 1.2 : 1);

  // vertical grid
  g.selectAll(".vg").data([10, 20, 30]).enter().append("line")
      .attr("x1", function(d) { return x(d); })
      .attr("x2", function(d) { return x(d); })
      .attr("y1", top).attr("y2", bot)
      .attr("stroke", function(d) { return d == 10 ? "#555" : (d == 20 ? (isB ? "#aaa" : "#666") : "#c8c8c8"); })
      .attr("stroke-width", function(d) { return d == 10 ? 1 : 1.5; });

  // axes
  var ya = g.append("g").attr("class", "yaxis")
      .call(d3.axisLeft(y).tickValues(tv).tickSize(0).tickPadding(7)
        .tickFormat(function(d, j) { return p.ticks[j]; }));
  ya.select(".domain").remove();
  ya.selectAll("text").attr("font-size", 13).attr("font-family", null).attr("fill", "#111")
    .each(function(d, j) {
      var s = p.ticks[j];
      if (s.indexOf("{") >= 0) { var t = d3.select(this).text(""); rich(t, s, 9, 5); }
    });

  var xa = g.append("g").attr("transform", "translate(0," + bot + ")")
      .call(d3.axisBottom(x).tickValues(xTicks).tickSize(0).tickPadding(7).tickFormat(d3.format("d")));
  xa.select(".domain").remove();
  xa.selectAll("text").attr("font-size", 13).attr("font-family", null).attr("fill", "#111");

  if (p.right) {
    var ra = g.append("g").attr("transform", "translate(" + (W + 8) + ",0)")
        .call(d3.axisRight(y).tickValues(tv).tickSize(0).tickPadding(1).tickFormat(""));
    ra.select(".domain").remove();
    ra.selectAll("text").attr("font-size", 13).attr("font-family", null).attr("fill", "#111")
      .each(function(d, j) { rich(d3.select(this), p.right[j], 9, 5); });
  }

  // frame
  g.append("rect").attr("x", 0).attr("y", top).attr("width", W).attr("height", H)
      .attr("fill", "none").attr("stroke", "#333").attr("stroke-width", 1.2);
  g.append("path").attr("d", "M0," + top + "V" + bot + "H" + W)
      .attr("fill", "none").attr("stroke", "#333").attr("stroke-width", 1.8);

  // header
  g.append("rect").attr("x", 0).attr("y", 0).attr("width", W).attr("height", sec.headH)
      .attr("fill", headFill[p.head]).attr("stroke", "#333").attr("stroke-width", 1.2);
  g.append("line").attr("x1", 0).attr("x2", W).attr("y1", sec.headH).attr("y2", sec.headH)
      .attr("stroke", "#222").attr("stroke-width", 2);
  g.append("text").attr("x", W / 2).attr("y", sec.headH / 2 + 6)
      .attr("text-anchor", "middle").attr("font-size", 17).attr("font-weight", "bold")
      .attr("fill", headInk[p.head]).text(p.title);

  // arrows
  function fx(f) { return f * W; }
  function fy(f) { return top + f * H; }
  var la = p.la;
  g.append("line")
      .attr("x1", fx(la[0])).attr("y1", fy(la[1])).attr("x2", fx(la[2])).attr("y2", fy(la[3]))
      .attr("stroke", "#333").attr("stroke-width", 0.9).attr("stroke-dasharray", "1.3,1.6")
      .attr("marker-end", "url(#ah)");
  if (p.ua) {
    var u = p.ua, x1 = fx(u[0]), y1 = fy(u[1]), x2 = fx(u[2]), y2 = fy(u[3]);
    var cx = x2 + 0.35 * (x1 - x2), cy = y1 - 0.12 * (y1 - y2);
    g.append("path")
        .attr("d", "M" + x1 + "," + y1 + "Q" + cx + "," + cy + " " + x2 + "," + y2)
        .attr("fill", "none").attr("stroke", "#333").attr("stroke-width", 0.9)
        .attr("stroke-dasharray", "1.3,1.6").attr("marker-end", "url(#ah)");
  }
  (p.labels || []).forEach(function(l) {
    g.append("text")
        .attr("transform", "translate(" + fx(l.x) + "," + fy(l.y) + ") rotate(" + l.a + ")")
        .attr("text-anchor", "middle").attr("font-size", 13).attr("fill", "#222").text(l.t);
  });

  // fit curves
  var line = d3.line().curve(d3.curveMonotoneX)
      .x(function(d) { return x(d[0]); }).y(function(d) { return y(d[1]); });
  if (p.fitU) g.append("path").attr("d", line(p.fitU)).attr("fill", "none")
      .attr("stroke", green).attr("stroke-width", isB ? 2 : 1.6);
  g.append("path").attr("d", line(p.fitL)).attr("fill", "none")
      .attr("stroke", red).attr("stroke-width", isB ? 2 : 1.6);

  // error bars (section b)
  if (isB) {
    var bars = (p.unload || []).concat(p.load);
    bars.forEach(function(d) {
      if (d[3] - d[2] <= 0) return;
      var px = x(d[0]);
      g.append("path")
          .attr("d", "M" + px + "," + y(d[2]) + "V" + y(d[3]) +
                "M" + (px - 2.8) + "," + y(d[2]) + "H" + (px + 2.8) +
                "M" + (px - 2.8) + "," + y(d[3]) + "H" + (px + 2.8))
          .attr("stroke", "#111").attr("stroke-width", 1).attr("fill", "none");
    });
  }

  // points
  var tri = d3.symbol().type(d3.symbolTriangle).size(isB ? 48 : 34);
  if (p.unload) g.selectAll(".tri").data(p.unload).enter().append("path")
      .attr("d", tri)
      .attr("transform", function(d) { return "translate(" + x(d[0]) + "," + y(d[1]) + ")"; })
      .attr("fill", "#000");
  g.selectAll(".circ").data(p.load).enter().append("circle")
      .attr("cx", function(d) { return x(d[0]); })
      .attr("cy", function(d) { return y(d[1]); })
      .attr("r", isB ? 4.2 : 3.2)
      .attr("fill", "#fff").attr("stroke", "#111").attr("stroke-width", 1);

  // parameter box
  var bx = isB ? 112 : 101, by = top + (isB ? 15 : 11), bw = isB ? 115 : 127, bh = isB ? 37 : 42;
  g.append("rect").attr("x", bx).attr("y", by).attr("width", bw).attr("height", bh)
      .attr("fill", "#fff").attr("stroke", "#555").attr("stroke-width", 1.5);
  p.box.forEach(function(s, j) {
    var t = g.append("text").attr("x", bx + 6).attr("y", by + (isB ? 15 : 17) + j * (isB ? 16 : 17))
        .attr("font-size", 13).attr("fill", "#111");
    rich(t, s, 9, 5);
  });
}

// ---------- section letters and axis titles ----------
svg.append("text").attr("x", 3).attr("y", 26).attr("font-size", 40).attr("font-weight", "bold").text("a");
svg.append("text").attr("x", 3).attr("y", 934).attr("font-size", 40).attr("font-weight", "bold").text("b");

function xTitle(yb) {
  var t = svg.append("text").attr("x", 662).attr("y", yb).attr("text-anchor", "middle")
      .attr("font-size", 20).attr("fill", "#111");
  t.append("tspan").text("Terzaghi effective pressure P");
  t.append("tspan").attr("font-size", 13).attr("dy", 4).text("e");
  t.append("tspan").attr("dy", -4).text(" (MPa)");
}
xTitle(824);
xTitle(1726);

function yTitle(xb, yc, parts) {
  var t = svg.append("text").attr("transform", "translate(" + xb + "," + yc + ") rotate(-90)")
      .attr("text-anchor", "middle").attr("font-size", 20).attr("fill", "#111");
  rich(t, parts, 13, 7);
}
yTitle(20, 395, "Eulerian porosity \u03A6{E} (%)");
yTitle(20, 1303, "permeability k (mD)");
yTitle(1406, 1303, "permeability k (m{2})");

// ---------- legend ----------
var lg = svg.append("g");
lg.append("rect").attr("x", 66).attr("y", 838).attr("width", 1257).attr("height", 58)
    .attr("fill", "none").attr("stroke", "#333").attr("stroke-width", 1.2);

function legendBar(cx) {
  lg.append("path")
      .attr("d", "M" + cx + ",849V889M" + (cx - 3) + ",849H" + (cx + 3) + "M" + (cx - 3) + ",889H" + (cx + 3))
      .attr("stroke", "#111").attr("stroke-width", 1.2).attr("fill", "none");
  lg.append("text").attr("x", cx - 5).attr("y", 853).attr("text-anchor", "end").attr("font-size", 11).text("max");
  lg.append("text").attr("x", cx - 5).attr("y", 892).attr("text-anchor", "end").attr("font-size", 11).text("min");
}
legendBar(124);
lg.append("circle").attr("cx", 124).attr("cy", 869).attr("r", 6)
    .attr("fill", "#fff").attr("stroke", "#111").attr("stroke-width", 1.2);
lg.append("text").attr("x", 134).attr("y", 875).attr("font-size", 17.5).text("average data (loading)");

legendBar(440);
lg.append("path").attr("d", d3.symbol().type(d3.symbolTriangle).size(150))
    .attr("transform", "translate(440,869)").attr("fill", "#000");
lg.append("text").attr("x", 454).attr("y", 875).attr("font-size", 17.5).text("average data (unloading)");

lg.append("line").attr("x1", 733).attr("x2", 782).attr("y1", 869).attr("y2", 869)
    .attr("stroke", red).attr("stroke-width", 1.8);
lg.append("text").attr("x", 807).attr("y", 875).attr("font-size", 17.5).text("exponential fit loading");

lg.append("line").attr("x1", 1065).attr("x2", 1109).attr("y1", 869).attr("y2", 869)
    .attr("stroke", green).attr("stroke-width", 1.8);
lg.append("text").attr("x", 1113).attr("y", 875).attr("font-size", 17.5).text("logarithmic fit unloading");

</script>
</body>
</html>
